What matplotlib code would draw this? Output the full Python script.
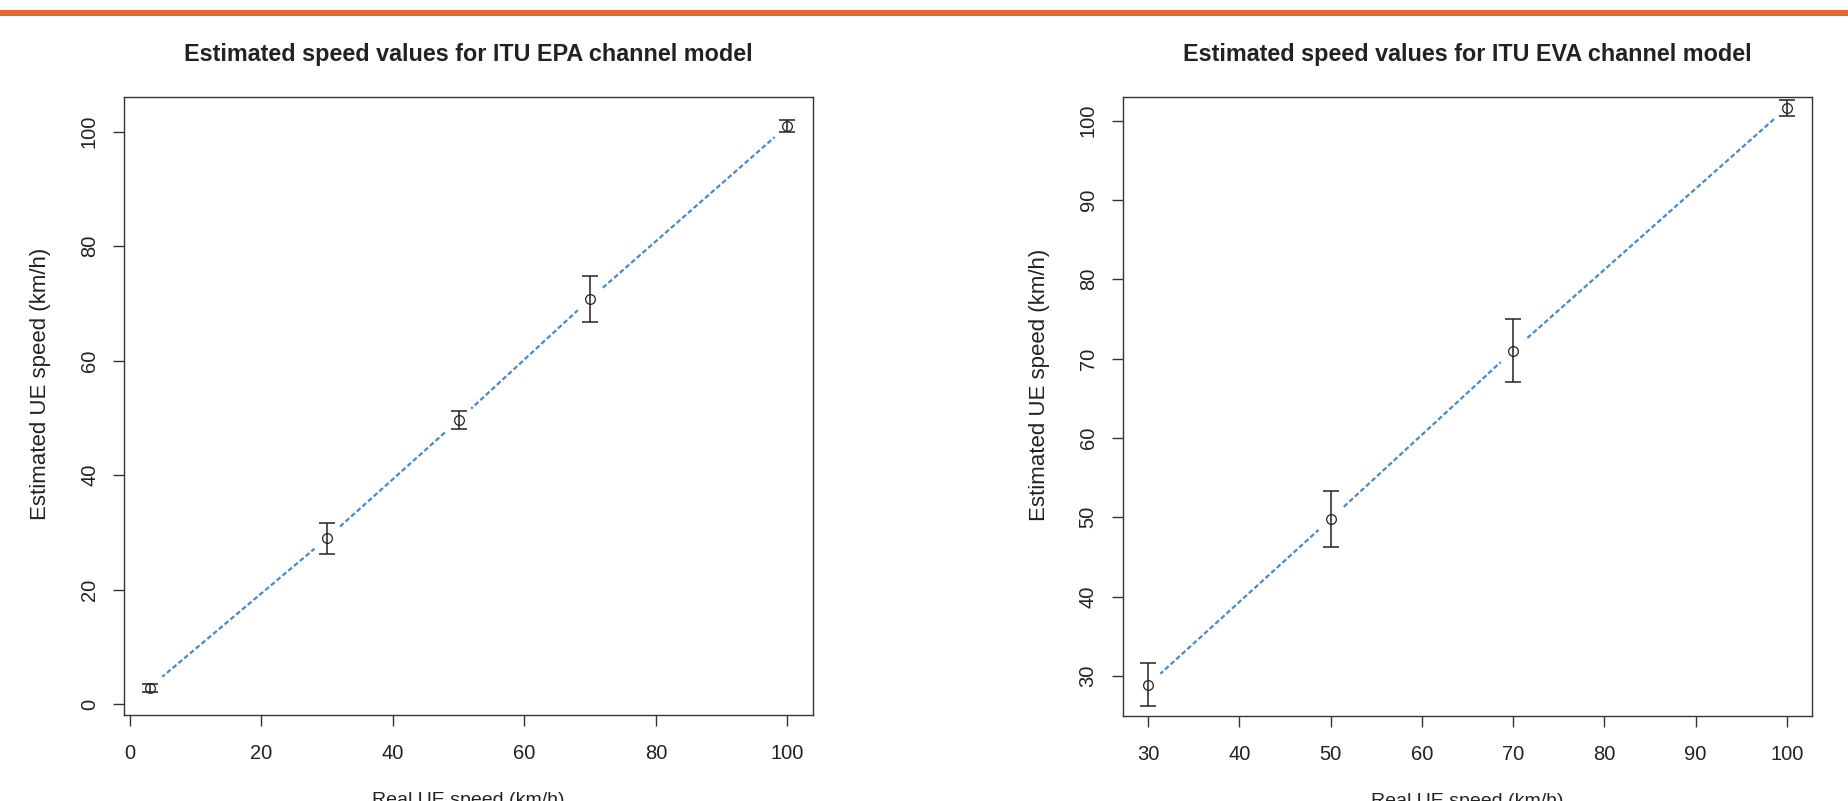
import matplotlib
matplotlib.use('Agg')
import matplotlib.pyplot as plt
from matplotlib.patches import Rectangle

plt.rcParams['font.family'] = ['Liberation Sans', 'DejaVu Sans']

# ITU EPA channel model
real_epa = [3, 30, 50, 70, 100]
est_epa = [2.9, 29.0, 49.6, 70.8, 101.0]
err_epa = [0.7, 2.7, 1.6, 4.0, 1.0]
xticks_epa = [0, 20, 40, 60, 80, 100]
yticks_epa = [0, 20, 40, 60, 80, 100]

# ITU EVA channel model
real_eva = [30, 50, 70, 100]
est_eva = [28.9, 49.8, 71.0, 101.6]
err_eva = [2.7, 3.5, 4.0, 1.0]
xticks_eva = [30, 40, 50, 60, 70, 80, 90, 100]
yticks_eva = [30, 40, 50, 60, 70, 80, 90, 100]

W, H = 1848, 801
fig = plt.figure(figsize=(W / 100, H / 100), dpi=100)

# orange rule along the top
fig.add_artist(Rectangle((0, 1 - 16 / H), 1, 6 / H, transform=fig.transFigure,
                         color='#E2693B', lw=0))


def panel(rect, x, y, err, xticks, yticks, xlim, ylim, title):
    ax = fig.add_axes(rect)
    ax.plot(x, y, linestyle='--', color='#4A88CC', lw=1.6, dashes=(2.2, 1.2), zorder=1)
    # gaps around the points, like R's type="b"
    ax.plot(x, y, 'o', ms=23, mfc='white', mec='white', zorder=1.5)
    ax.errorbar(x, y, yerr=err, fmt='none', ecolor='#222222', elinewidth=1.1,
                capsize=5.5, capthick=1.1, zorder=3)
    ax.plot(x, y, 'o', ms=7, mfc='none', mec='#222222', mew=0.9, zorder=4)
    ax.set_xlim(*xlim)
    ax.set_ylim(*ylim)
    ax.set_xticks(xticks)
    ax.set_yticks(yticks)
    ax.tick_params(length=8, width=1, color='#333333', labelsize=14.5, labelcolor='#222222')
    ax.tick_params(axis='x', pad=13)
    ax.tick_params(axis='y', pad=10, labelrotation=90)
    for lab in ax.get_yticklabels():
        lab.set_va('center')
    for s in ax.spines.values():
        s.set_color('#333333')
        s.set_linewidth(1.0)
    ax.set_title(title, fontsize=16.8, fontweight='bold', pad=26, color='#222222')
    ax.set_xlabel('Real UE speed (km/h)', fontsize=14, color='#222222')
    ax.set_ylabel('Estimated UE speed (km/h)', fontsize=16, color='#222222')
    ax.xaxis.set_label_coords(0.5, -0.124)
    ax.yaxis.set_label_coords(-0.106, 0.535)
    return ax


def rect(x0, x1, ytop, ybot):
    return [x0 / W, 1 - ybot / H, (x1 - x0) / W, (ybot - ytop) / H]


panel(rect(124, 813, 96.7, 715), real_epa, est_epa, err_epa, xticks_epa, yticks_epa,
      (-0.88, 103.88), (-1.9, 106.1), 'Estimated speed values for ITU EPA channel model')
panel(rect(1122.7, 1812.3, 96.7, 716), real_eva, est_eva, err_eva, xticks_eva, yticks_eva,
      (27.2, 102.8), (24.96, 103.0), 'Estimated speed values for ITU EVA channel model')

fig.savefig('out.png', dpi=100)
